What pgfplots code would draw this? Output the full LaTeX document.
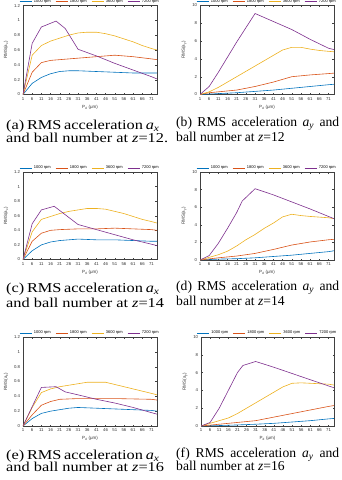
\documentclass[border=0pt]{standalone}
\usepackage{graphicx}
\usepackage{pgfplots}
\pgfplotsset{compat=1.18}
\usepackage{fontspec}
\setmainfont{Liberation Serif}
\newfontfamily\axfont{Liberation Sans}

% MATLAB default line colours
\definecolor{c1}{rgb}{0.000,0.447,0.741}
\definecolor{c2}{rgb}{0.850,0.325,0.098}
\definecolor{c3}{rgb}{0.929,0.694,0.125}
\definecolor{c4}{rgb}{0.494,0.184,0.556}

\pgfplotsset{
  panel/.style={
    scale only axis,
    anchor=south west,
    width=134pt,
    xmin=1, xmax=74,
    ymin=0,
    xtick={1,6,...,71},
    tick align=inside,
    major tick length=1.5pt,
    axis line style={line width=0.35pt, black!75},
    every tick/.style={line width=0.3pt, black!75},
    /pgf/number format/assume math mode=true,
    ticklabel style={font=\axfont\fontsize{4.3}{5}\selectfont, text=black!80},
    xticklabel style={yshift=0.6pt},
    yticklabel style={xshift=0.6pt},
    label style={font=\axfont\fontsize{4.5}{5}\selectfont, text=black!80},
    xlabel={P\textsubscript{d} (μm)},
    xlabel style={yshift=2.5pt},
    ylabel style={yshift=-1pt},
    every axis plot/.append style={line width=0.6pt},
    legend columns=4,
    legend style={at={(0.5,1)}, anchor=south, yshift=-1pt, draw=none, fill=none,
      font=\axfont\fontsize{4}{4.5}\selectfont, inner sep=0.5pt,
      /tikz/every even column/.append style={column sep=2.5pt}},
    legend cell align=left,
    legend image code/.code={\draw[#1] (0pt,0pt) -- (12pt,0pt);},
  },
  axpanel/.style={panel, ymax=1.2, ytick={0,0.2,...,1.2},
    yticklabels={0,0.2,0.4,0.6,0.8,1,1.2},
    ylabel={RMS(a\textsubscript{x})}},
  aypanel/.style={panel, ymax=10, ytick={0,2,...,10},
    ylabel={RMS(a\textsubscript{y})}},
}

\newcommand{\rpmlegend}{\legend{1000 rpm,1800 rpm,3600 rpm,7200 rpm}}
% left-column captions are a little wider in the source
\newcommand{\lcapA}[1]{\scalebox{1.2}[1]{\makebox[126pt][s]{#1}}}
\newcommand{\lcapB}[1]{\scalebox{1.2}[1]{#1}}
\newcommand{\rcapA}[1]{\makebox[163pt][s]{#1}}

\begin{document}
\begin{tikzpicture}
\useasboundingbox (0pt,0pt) rectangle (342pt,-480pt);

% (a)
\begin{axis}[axpanel, at={(23pt,-94.5pt)}, height=89pt]
\addplot[c1] coordinates {(1,0)(6,0.15)(11,0.23)(16,0.28)(21,0.31)(26,0.32)(31,0.32)(41,0.31)(51,0.30)(61,0.29)(71,0.29)(74,0.29)};
\addplot[c2] coordinates {(1,0)(6,0.30)(11,0.43)(16,0.46)(21,0.47)(26,0.48)(31,0.49)(41,0.51)(51,0.53)(61,0.51)(71,0.48)(74,0.47)};
\addplot[c3] coordinates {(1,0)(6,0.53)(11,0.66)(16,0.72)(21,0.76)(26,0.80)(31,0.83)(36,0.84)(41,0.84)(46,0.82)(51,0.79)(56,0.75)(61,0.71)(66,0.66)(71,0.62)(74,0.60)};
\addplot[c4] coordinates {(1,0)(6,0.69)(11,0.91)(19,0.99)(24,0.89)(31,0.61)(41,0.52)(51,0.42)(61,0.33)(71,0.24)(74,0.21)};
\rpmlegend
\end{axis}

% (b)
\begin{axis}[aypanel, at={(200pt,-94.5pt)}, height=89pt]
\addplot[c1] coordinates {(1,0)(11,0.1)(21,0.2)(31,0.35)(41,0.5)(51,0.7)(61,0.9)(71,1.1)(74,1.15)};
\addplot[c2] coordinates {(1,0)(6,0.2)(11,0.3)(21,0.5)(31,0.9)(41,1.4)(51,2.0)(61,2.2)(71,2.35)(74,2.4)};
\addplot[c3] coordinates {(1,0)(6,0.3)(11,0.8)(16,1.4)(21,2.0)(26,2.6)(31,3.2)(36,3.8)(41,4.4)(46,5.0)(51,5.3)(56,5.3)(61,5.1)(66,4.95)(71,4.85)(74,4.8)};
\addplot[c4] coordinates {(1,0)(6,0.9)(11,2.5)(16,4.2)(21,5.9)(26,7.5)(31,9.1)(41,8.2)(51,7.3)(61,6.2)(71,5.2)(74,5.05)};
\rpmlegend
\end{axis}

% (c)
\begin{axis}[axpanel, at={(23pt,-259.5pt)}, height=87.5pt]
\addplot[c1] coordinates {(1,0)(6,0.12)(11,0.2)(16,0.24)(21,0.26)(31,0.28)(41,0.27)(51,0.27)(61,0.26)(71,0.25)(74,0.25)};
\addplot[c2] coordinates {(1,0)(6,0.25)(11,0.36)(16,0.40)(21,0.41)(31,0.42)(41,0.42)(51,0.43)(61,0.42)(71,0.41)(74,0.40)};
\addplot[c3] coordinates {(1,0)(6,0.38)(11,0.55)(16,0.59)(21,0.63)(26,0.66)(31,0.68)(36,0.70)(41,0.70)(46,0.69)(51,0.66)(56,0.63)(61,0.59)(66,0.55)(71,0.52)(74,0.50)};
\addplot[c4] coordinates {(1,0)(6,0.49)(11,0.68)(18,0.73)(31,0.48)(41,0.41)(51,0.34)(61,0.27)(71,0.21)(74,0.19)};
\rpmlegend
\end{axis}

% (d)
\begin{axis}[aypanel, at={(200pt,-260pt)}, height=88pt]
\addplot[c1] coordinates {(1,0)(11,0.1)(21,0.15)(31,0.25)(41,0.4)(51,0.55)(61,0.75)(71,0.95)(74,1.05)};
\addplot[c2] coordinates {(1,0)(11,0.25)(21,0.45)(31,0.75)(41,1.2)(51,1.7)(61,2.05)(71,2.3)(74,2.35)};
\addplot[c3] coordinates {(1,0)(6,0.3)(11,0.6)(16,1.0)(21,1.6)(26,2.3)(31,2.9)(36,3.6)(41,4.2)(46,4.9)(51,5.2)(56,5.05)(61,4.95)(71,4.8)(74,4.7)};
\addplot[c4] coordinates {(1,0)(6,0.5)(11,1.9)(16,3.6)(21,5.4)(24,6.7)(31,8.1)(41,7.4)(51,6.6)(61,5.8)(71,4.95)(74,4.7)};
\rpmlegend
\end{axis}

% (e)
\begin{axis}[axpanel, at={(23pt,-426pt)}, height=89pt]
\addplot[c1] coordinates {(1,0)(6,0.1)(11,0.17)(16,0.2)(21,0.22)(26,0.24)(31,0.25)(41,0.24)(51,0.23)(61,0.22)(71,0.21)(74,0.2)};
\addplot[c2] coordinates {(1,0)(6,0.15)(11,0.28)(16,0.33)(21,0.36)(31,0.37)(51,0.37)(71,0.36)(74,0.35)};
\addplot[c3] coordinates {(1,0)(6,0.25)(11,0.45)(16,0.5)(21,0.53)(26,0.55)(31,0.57)(36,0.59)(46,0.59)(51,0.56)(61,0.5)(71,0.44)(74,0.42)};
\addplot[c4] coordinates {(1,0)(11,0.52)(19,0.53)(24,0.46)(31,0.42)(41,0.36)(51,0.31)(61,0.25)(71,0.18)(74,0.16)};
\rpmlegend
\end{axis}

% (f)
\begin{axis}[aypanel, at={(201pt,-426pt)}, height=89pt, width=133pt]
\addplot[c1] coordinates {(1,0)(11,0.05)(21,0.12)(31,0.2)(41,0.3)(51,0.45)(61,0.6)(71,0.8)(74,0.85)};
\addplot[c2] coordinates {(1,0)(11,0.2)(21,0.4)(31,0.6)(41,1.0)(51,1.4)(61,1.8)(71,2.2)(74,2.3)};
\addplot[c3] coordinates {(1,0)(6,0.3)(11,0.6)(16,0.9)(21,1.4)(26,2.0)(31,2.6)(41,3.8)(46,4.4)(51,4.8)(56,4.85)(61,4.8)(71,4.7)(74,4.6)};
\addplot[c4] coordinates {(1,0)(6,0.4)(11,2.0)(16,4.0)(21,6.0)(24,6.8)(31,7.25)(41,6.6)(51,5.9)(61,5.2)(71,4.5)(74,4.3)};
\rpmlegend
\end{axis}

% captions
\begin{scope}[every node/.style={anchor=base west, inner sep=0pt, font=\fontsize{13.6}{15}\selectfont}]
\node at (6pt,-129pt)   {\lcapA{(a) RMS acceleration \textit{a}\textsubscript{\textit{x}}}};
\node at (6pt,-142.5pt) {\lcapB{and ball number at \textit{z}=12.}};
\node at (176pt,-126pt) {\rcapA{(b) RMS acceleration \textit{a}\textsubscript{\textit{y}} and}};
\node at (176pt,-141pt) {ball number at \textit{z}=12};
\node at (6pt,-292pt)   {\lcapA{(c) RMS acceleration \textit{a}\textsubscript{\textit{x}}}};
\node at (6pt,-307pt)   {\lcapB{and ball number at \textit{z}=14}};
\node at (176pt,-290.5pt) {\rcapA{(d) RMS acceleration \textit{a}\textsubscript{\textit{y}} and}};
\node at (176pt,-305.5pt) {ball number at \textit{z}=14};
\node at (6pt,-459pt)   {\lcapA{(e) RMS acceleration \textit{a}\textsubscript{\textit{x}}}};
\node at (6pt,-471.5pt) {\lcapB{and ball number at \textit{z}=16}};
\node at (176pt,-457pt) {\rcapA{(f) RMS acceleration \textit{a}\textsubscript{\textit{y}} and}};
\node at (176pt,-470.5pt) {ball number at \textit{z}=16};
\end{scope}
\end{tikzpicture}
\end{document}
